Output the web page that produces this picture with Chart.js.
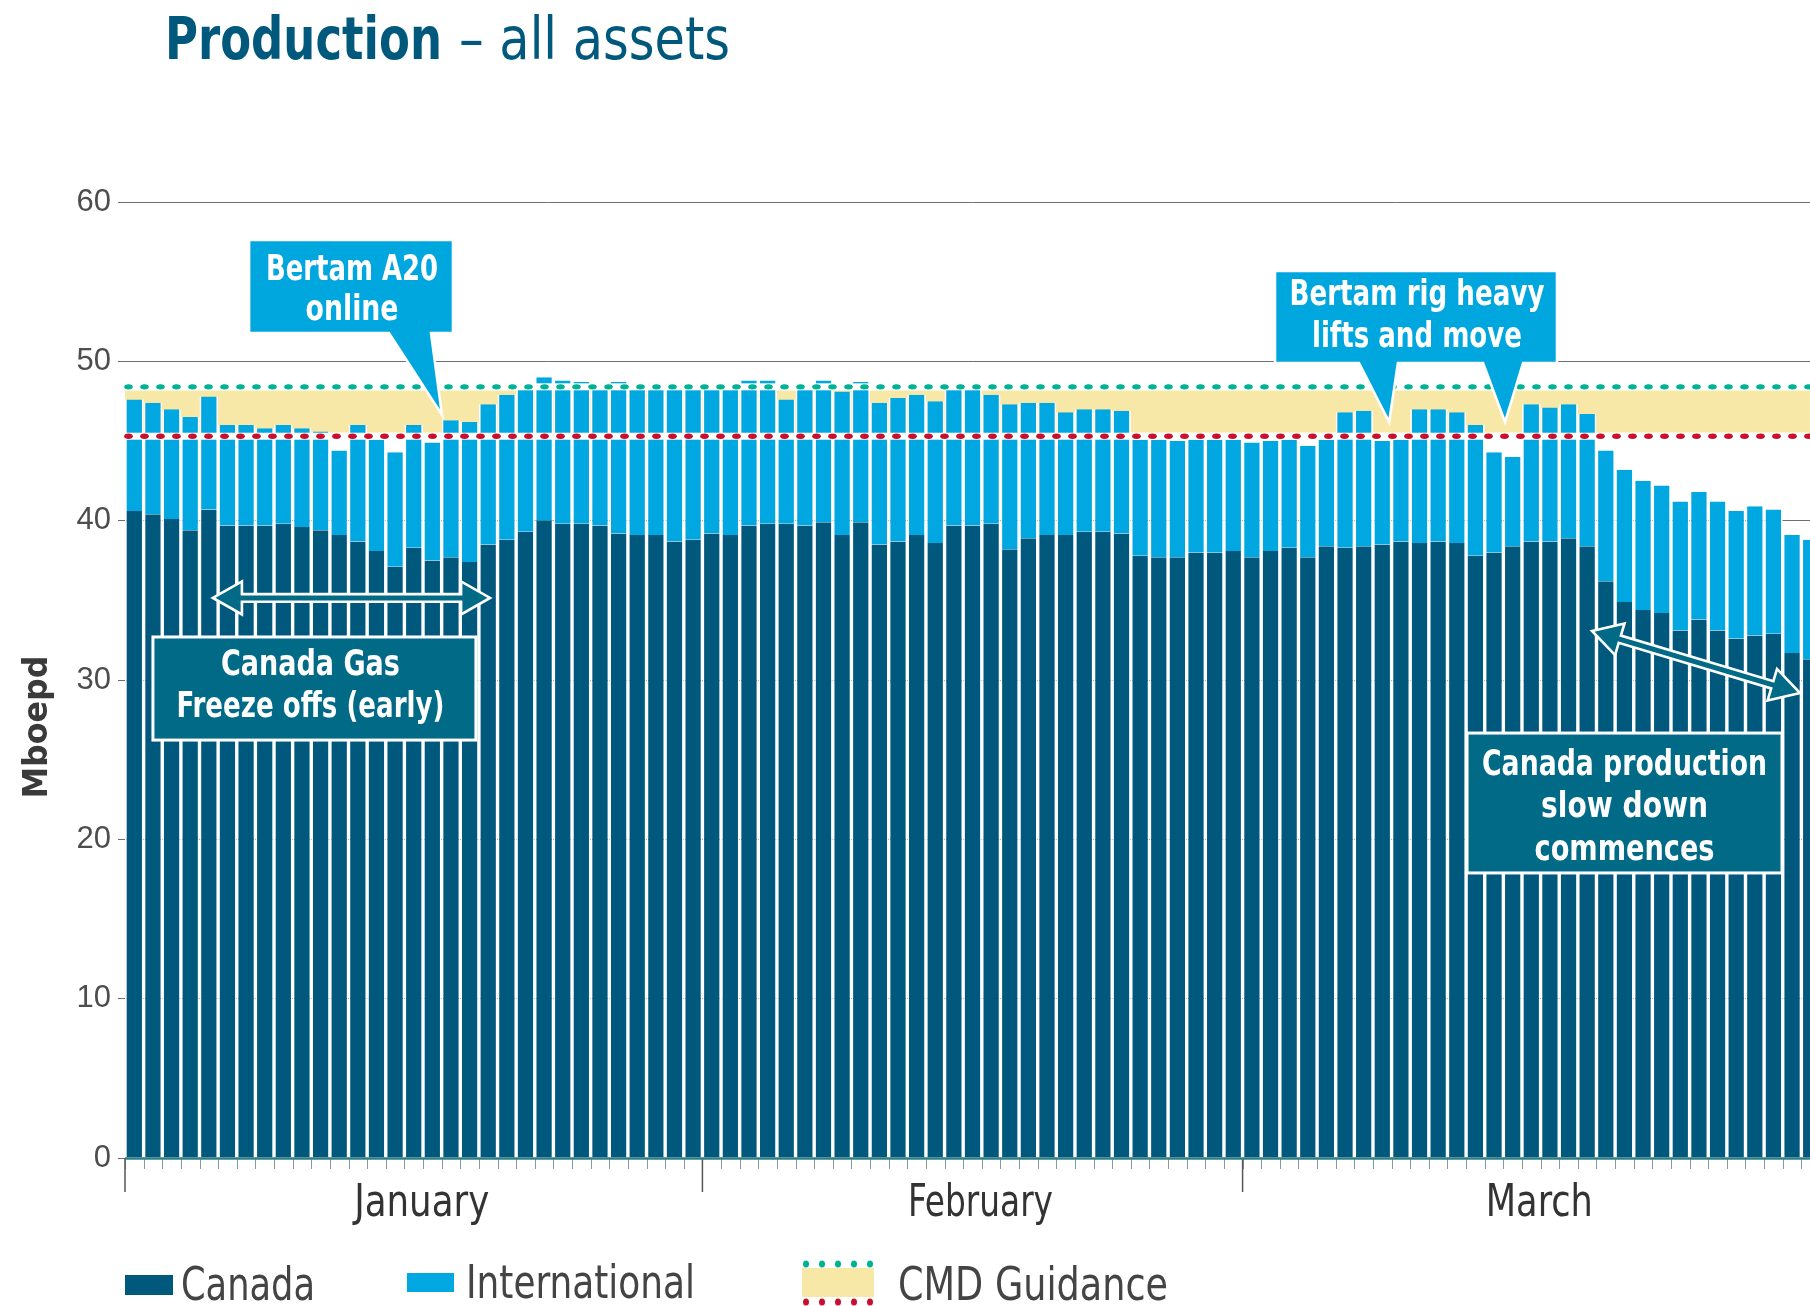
<!DOCTYPE html>
<html><head><meta charset="utf-8">
<script src="https://cdn.jsdelivr.net/npm/chart.js@4.4.1/dist/chart.umd.min.js"></script>
<style>
html,body{margin:0;padding:0;background:#fff;overflow:hidden;width:1810px;height:1306px;}
#wrap{position:absolute;left:0;top:0;width:1830px;height:1306px;}
</style></head><body>
<div id="wrap"><canvas id="c" width="1830" height="1306"></canvas></div>
<script>
// ---------- data ----------
const months = ['January', 'February', 'March'];
const daysInMonth = [31, 29, 31];
const canada = [40.6,40.4,40.1,39.4,40.7,39.7,39.7,39.7,39.8,39.6,39.4,39.1,38.7,38.1,37.1,38.3,37.5,37.7,37.4,38.5,38.8,39.3,40.0,39.8,39.8,39.7,39.2,39.1,39.1,38.7,38.8,
  39.2,39.1,39.7,39.8,39.8,39.7,39.9,39.1,39.9,38.5,38.7,39.1,38.6,39.7,39.7,39.8,38.2,38.9,39.1,39.1,39.3,39.3,39.2,37.8,37.7,37.7,38.0,38.0,38.1,
  37.7,38.1,38.3,37.7,38.4,38.3,38.4,38.5,38.7,38.6,38.7,38.6,37.8,38.0,38.4,38.7,38.7,38.9,38.4,36.2,34.9,34.4,34.2,33.1,33.8,33.1,32.6,32.8,32.9,31.7,31.3];
const total = [47.6,47.4,47.0,46.5,47.8,46.0,46.0,45.8,46.0,45.8,45.6,44.4,46.0,45.1,44.3,46.0,44.9,46.3,46.2,47.3,47.9,48.2,49.0,48.8,48.7,48.6,48.7,48.6,48.6,48.2,48.2,
  48.2,48.2,48.8,48.8,47.6,48.2,48.8,48.1,48.7,47.4,47.7,47.9,47.5,48.2,48.2,47.9,47.3,47.4,47.4,46.8,47.0,47.0,46.9,45.1,45.1,45.0,45.1,45.1,45.1,
  44.9,45.0,45.1,44.7,45.1,46.8,46.9,45.0,45.1,47.0,47.0,46.8,46.0,44.3,44.0,47.3,47.1,47.3,46.7,44.4,43.2,42.5,42.2,41.2,41.8,41.2,40.6,40.9,40.7,39.1,38.8];
const guidanceLow = 45.3;
const guidanceHigh = 48.4;
const yMin = 0, yMax = 60, yStep = 10;
const seriesNames = ['Canada', 'International', 'CMD Guidance'];
const titleBold = 'Production';
const titleRest = '– all assets';
const yTitle = 'Mboepd';

// derived tables for the library
const labels = [];
months.forEach((m, i) => { for (let d = 1; d <= daysInMonth[i]; d++) labels.push(m + ' ' + d); });
const international = total.map((t, i) => +(t - canada[i]).toFixed(2));

// ---------- styles ----------
const C_CAN = '#00587C', C_INT = '#00A7E0', C_BAND = '#F8E8A8', C_GREEN = '#00B194', C_RED = '#C8102E';
const C_BOX_BLUE = '#00A7DF', C_BOX_TEAL = '#006A87', C_TEXT = '#444444', C_TITLE = '#00587C';
const NARROW = "'Liberation Sans Narrow','Arial Narrow','DejaVu Sans Condensed','Roboto',sans-serif";

function fitText(ctx, text, x, y, width, font, color, align) {
  ctx.save();
  ctx.font = font; ctx.fillStyle = color; ctx.textBaseline = 'alphabetic'; ctx.textAlign = 'left';
  const w = ctx.measureText(text).width;
  const s = width / w;
  const x0 = align === 'center' ? x - width / 2 : (align === 'right' ? x - width : x);
  ctx.translate(x0, y); ctx.scale(s, 1);
  ctx.fillText(text, 0, 0);
  ctx.restore();
}

// annotation layout (in day / value units)
const callouts = [
  { box: [6.66, 17.61, 51.78, 57.62], pointers: [[14.17, 16.43, 17.02, 46.63]],
    lines: [['Bertam A20', 40, 172], ['online', 80, 93]] },
  { box: [61.74, 76.88, 49.90, 55.67], pointers: [[66.25, 68.34, 67.87, 46.19], [72.91, 75.06, 74.09, 46.19]],
    lines: [['Bertam rig heavy', 34, 255], ['lifts and move', 76, 210]] }
];
const notes = [
  { box: [1.50, 18.84, 26.23, 32.70], dx: -4, lines: [['Canada Gas', 38, 179], ['Freeze offs (early)', 80, 268]] },
  { box: [72.05, 88.96, 17.89, 26.67], dx: 0, lines: [['Canada production', 42, 285], ['slow down', 84, 167], ['commences', 127, 180]] }
];
const arrows = [
  [4.72, 35.15, 19.60, 35.15],
  [78.76, 33.08, 89.93, 29.18]
];

function drawDoubleArrow(ctx, x1, y1, x2, y2) {
  const dx = x2 - x1, dy = y2 - y1, L = Math.hypot(dx, dy);
  const hl = 29, hw = 16.5, sw = 3.8;
  ctx.save();
  ctx.translate(x1, y1); ctx.rotate(Math.atan2(dy, dx));
  ctx.beginPath();
  ctx.moveTo(0, 0); ctx.lineTo(hl, -hw); ctx.lineTo(hl, -sw); ctx.lineTo(L - hl, -sw);
  ctx.lineTo(L - hl, -hw); ctx.lineTo(L, 0); ctx.lineTo(L - hl, hw); ctx.lineTo(L - hl, sw);
  ctx.lineTo(hl, sw); ctx.lineTo(hl, hw); ctx.closePath();
  ctx.fillStyle = C_BOX_TEAL; ctx.fill();
  ctx.lineWidth = 2.6; ctx.strokeStyle = '#fff'; ctx.lineJoin = 'miter'; ctx.stroke();
  ctx.restore();
}

const deco = {
  id: 'deco',
  beforeDatasetsDraw(chart) {
    const { ctx, chartArea: a, scales: { y } } = chart;
    ctx.save();
    const top = y.getPixelForValue(guidanceHigh) + 3.5, bot = y.getPixelForValue(guidanceLow) - 3.5;
    ctx.fillStyle = C_BAND;
    ctx.fillRect(a.left, top, a.right - a.left, bot - top);
    ctx.restore();
  },
  afterDatasetsDraw(chart) {
    const { ctx, chartArea: a, scales: { y } } = chart;
    ctx.save();
    [[guidanceHigh, C_GREEN], [guidanceLow, C_RED]].forEach(([v, col]) => {
      const py = y.getPixelForValue(v);
      ctx.fillStyle = '#fff'; ctx.fillRect(a.left, py - 3.5, a.right - a.left, 7);
      ctx.fillStyle = col;
      for (let x = a.left + 3.5; x < a.right; x += 16) {
        ctx.beginPath(); ctx.ellipse(x, py, 4.3, 2.7, 0, 0, Math.PI * 2); ctx.fill();
      }
    });
    ctx.restore();
  },
  afterDraw(chart) {
    const { ctx, chartArea: a, scales: { x, y } } = chart;
    const n = labels.length;
    const pitch = (a.right - a.left) / n;
    const X = d => a.left + d * pitch;
    const Y = v => y.getPixelForValue(v);
    ctx.save();
    // x axis line and ticks
    const y0 = Y(0);
    ctx.strokeStyle = '#8a9a9c'; ctx.lineWidth = 1;
    for (let d = 0; d <= n; d++) {
      ctx.beginPath(); ctx.moveTo(Math.round(X(d)) + 0.5, y0); ctx.lineTo(Math.round(X(d)) + 0.5, y0 + 11); ctx.stroke();
    }
    ctx.strokeStyle = '#555'; ctx.lineWidth = 1.5;
    let acc = 0;
    const bounds = [0];
    daysInMonth.forEach(k => { acc += k; bounds.push(acc); });
    bounds.forEach(d => { ctx.beginPath(); ctx.moveTo(X(d), y0); ctx.lineTo(X(d), y0 + 34); ctx.stroke(); });
    ctx.strokeStyle = '#2f7f86'; ctx.lineWidth = 2.5;
    ctx.beginPath(); ctx.moveTo(a.left, y0 + 0.5); ctx.lineTo(a.right, y0 + 0.5); ctx.stroke();
    const monthW = [135, 145, 107];
    months.forEach((m, i) => {
      const cx = (X(bounds[i]) + X(bounds[i + 1])) / 2 + 8;
      fitText(ctx, m, cx, y0 + 58, monthW[i], '44px ' + NARROW, '#333', 'center');
    });
    // y title
    ctx.save();
    ctx.translate(47, 727); ctx.rotate(-Math.PI / 2);
    fitText(ctx, yTitle, 0, 0, 143, 'bold 34px ' + NARROW, '#3a3a3a', 'center');
    ctx.restore();
    // chart title
    fitText(ctx, titleBold, 165, 59, 277, 'bold 58px ' + NARROW, C_TITLE, 'left');
    fitText(ctx, titleRest, 459, 59, 271, '58px ' + NARROW, C_TITLE, 'left');
    // legend
    ctx.fillStyle = C_CAN; ctx.fillRect(125, 1275, 48, 20);
    fitText(ctx, seriesNames[0], 181, 1300, 134, '47px ' + NARROW, C_TEXT, 'left');
    ctx.fillStyle = C_INT; ctx.fillRect(407, 1273, 47, 19);
    fitText(ctx, seriesNames[1], 466, 1298, 229, '47px ' + NARROW, C_TEXT, 'left');
    ctx.fillStyle = C_BAND; ctx.fillRect(802, 1268, 72, 29);
    for (let k = 0; k < 5; k++) {
      const dxk = 806 + k * 16;
      ctx.fillStyle = C_GREEN; ctx.beginPath(); ctx.ellipse(dxk, 1264, 3, 3.5, 0, 0, Math.PI * 2); ctx.fill();
      ctx.fillStyle = C_RED; ctx.beginPath(); ctx.ellipse(dxk, 1302, 3, 3.5, 0, 0, Math.PI * 2); ctx.fill();
    }
    fitText(ctx, seriesNames[2], 898, 1300, 270, '47px ' + NARROW, C_TEXT, 'left');

    // callouts (blue)
    callouts.forEach(c => {
      const [d0, d1, v0, v1] = c.box;
      const x0 = X(d0), x1 = X(d1), yT = Y(v1), yB = Y(v0);
      ctx.beginPath();
      ctx.moveTo(x0, yT); ctx.lineTo(x1, yT); ctx.lineTo(x1, yB);
      c.pointers.slice().sort((p, q) => q[0] - p[0]).forEach(p => {
        ctx.lineTo(X(p[1]), yB); ctx.lineTo(X(p[2]), Y(p[3])); ctx.lineTo(X(p[0]), yB);
      });
      ctx.lineTo(x0, yB); ctx.closePath();
      ctx.fillStyle = C_BOX_BLUE; ctx.fill();
      ctx.lineWidth = 2.6; ctx.strokeStyle = '#fff'; ctx.lineJoin = 'miter'; ctx.stroke();
      const cx = (x0 + x1) / 2 + 1;
      c.lines.forEach(([t, off, w]) => fitText(ctx, t, cx, yT + off, w, 'bold 36px ' + NARROW, '#fff', 'center'));
    });
    // arrows
    arrows.forEach(([d1, v1, d2, v2]) => drawDoubleArrow(ctx, X(d1), Y(v1), X(d2), Y(v2)));
    // teal notes
    notes.forEach(nb => {
      const [d0, d1, v0, v1] = nb.box;
      const x0 = X(d0), x1 = X(d1), yT = Y(v1), yB = Y(v0);
      ctx.fillStyle = C_BOX_TEAL; ctx.fillRect(x0, yT, x1 - x0, yB - yT);
      ctx.lineWidth = 3; ctx.strokeStyle = '#fff'; ctx.strokeRect(x0, yT, x1 - x0, yB - yT);
      const cx = (x0 + x1) / 2 + nb.dx;
      nb.lines.forEach(([t, off, w]) => fitText(ctx, t, cx, yT + off, w, 'bold 36px ' + NARROW, '#fff', 'center'));
    });
    ctx.restore();
  }
};

const barBorder = { left: 1.7, right: 1.7, top: 0, bottom: 0 };
new Chart(document.getElementById('c'), {
  type: 'bar',
  data: {
    labels: labels,
    datasets: [
      { label: seriesNames[0], data: canada, backgroundColor: C_CAN, borderColor: '#fff', borderWidth: barBorder, borderSkipped: false, stack: 's', barPercentage: 1, categoryPercentage: 1, inflateAmount: 0 },
      { label: seriesNames[1], data: international, backgroundColor: C_INT, borderColor: '#fff', borderWidth: barBorder, borderSkipped: false, stack: 's', barPercentage: 1, categoryPercentage: 1, inflateAmount: 0 }
    ]
  },
  options: {
    responsive: false, animation: false, devicePixelRatio: 1,
    layout: { padding: { top: 202, bottom: 148, left: 0, right: 10 } },
    plugins: { legend: { display: false }, tooltip: { enabled: false } },
    scales: {
      x: { stacked: true, display: false, offset: true, grid: { display: false } },
      y: {
        stacked: true, min: yMin, max: yMax,
        afterFit: s => { s.width = 125; },
        border: { display: false },
        grid: { color: '#6f6f6f', lineWidth: 1, tickLength: 7, drawTicks: true },
        ticks: { stepSize: yStep, padding: 7, color: '#4d4d4d', font: { family: "'Liberation Sans','Arial',sans-serif", size: 31 } }
      }
    }
  },
  plugins: [deco]
});
</script>
</body></html>
